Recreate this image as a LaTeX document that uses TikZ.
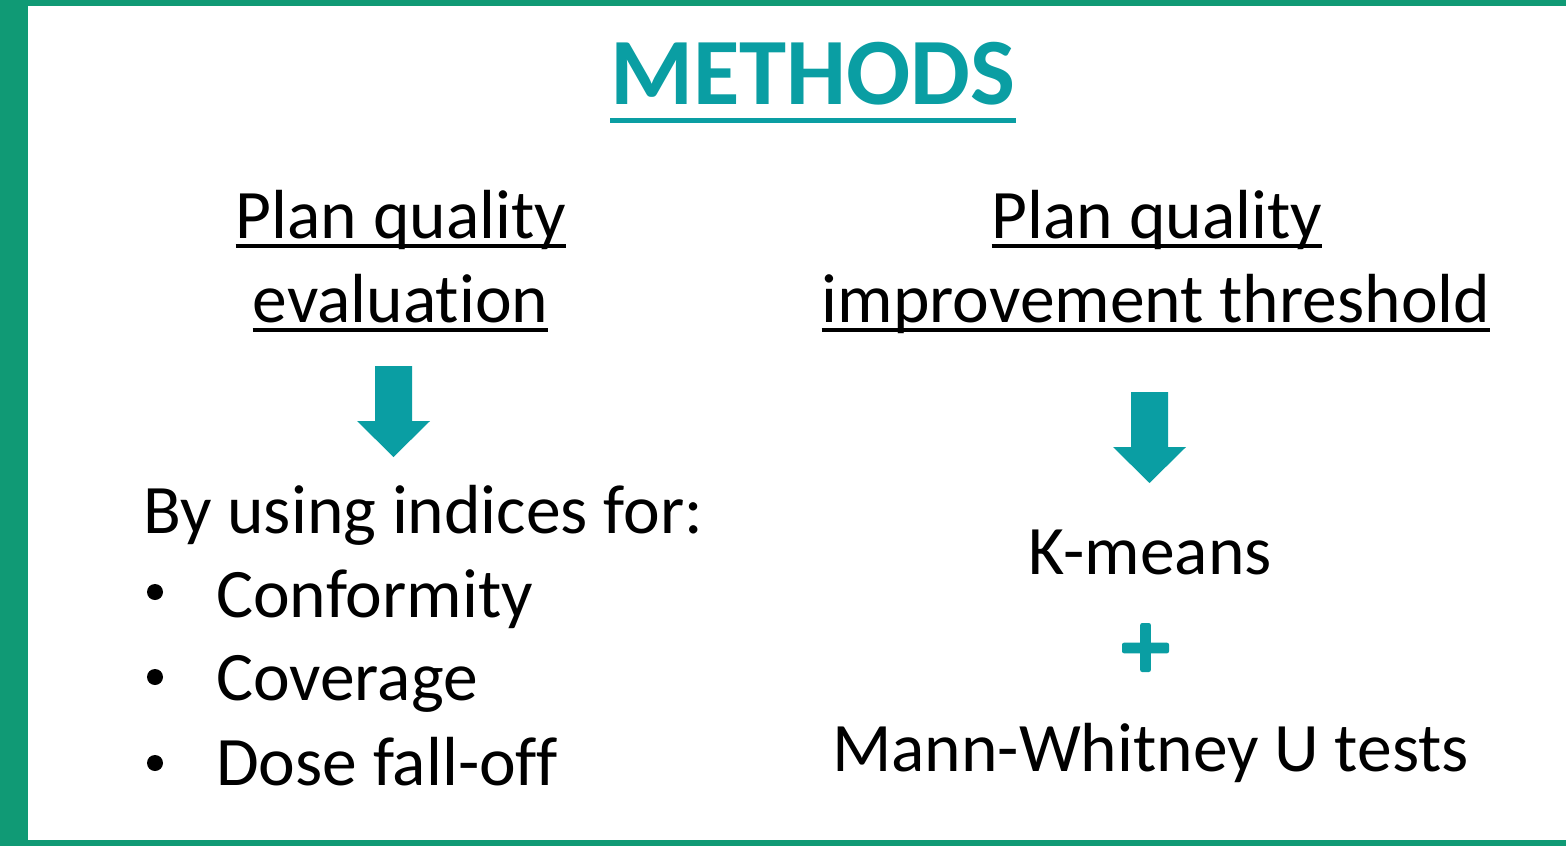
\documentclass[tikz,border=0pt]{standalone}
\usepackage{fontspec}
\setmainfont[Ligatures={NoCommon,NoContextual}]{Carlito}
\definecolor{framegreen}{RGB}{16,154,117}
\definecolor{accent}{RGB}{10,158,163}
\begin{document}
\begin{tikzpicture}[x=1pt,y=-1pt,
  body/.style={inner sep=0pt,anchor=base,font=\fontsize{69.5}{80}\selectfont,text=black},
  heading/.style={inner sep=0pt,anchor=base,text=accent,font=\fontsize{95}{110}\selectfont\bfseries},
  uline/.style={line width=3.5pt,black},
  downarrow/.style={fill=accent,draw=none},
  dot/.style={fill=black,draw=none}]
\useasboundingbox (0,0) rectangle (1566,846);
\fill[white] (0,0) rectangle (1566,846);
% frame
\fill[framegreen] (0,0) rectangle (28,846);
\fill[framegreen] (0,0) rectangle (1566,6);
\fill[framegreen] (0,840) rectangle (1566,846);

% title
\node[heading] (title) at (813,104) {METHODS};
\draw[accent,line width=5pt] ([yshift=-16pt]title.base west) -- ([yshift=-16pt]title.base east);

% left column heading
\node[body] (lh1) at (401,238) {Plan quality};
\node[body] (lh2) at (400.5,322) {evaluation};
\draw[uline] ([yshift=-8pt]lh1.base west) -- ([yshift=-8pt]lh1.base east);
\draw[uline] ([yshift=-8pt]lh2.base west) -- ([yshift=-8pt]lh2.base east);

% right column heading
\node[body] (rh1) at (1157,238) {Plan quality};
\node[body] (rh2) at (1156,322) {improvement threshold};
\draw[uline] ([yshift=-8pt]rh1.base west) -- ([yshift=-8pt]rh1.base east);
\draw[uline] ([yshift=-8pt]rh2.base west) -- ([yshift=-8pt]rh2.base east);

% block arrows
\fill[downarrow] (375,366) -- (412,366) -- (412,421) -- (430,421) -- (393.5,457)
  -- (357,421) -- (375,421) -- cycle;
\fill[downarrow] (1131,392) -- (1168,392) -- (1168,447) -- (1186,447) -- (1149.5,483)
  -- (1113,447) -- (1131,447) -- cycle;

% left column list
\node[body,anchor=base west] (intro) at (143,533) {By using indices for:};
\node[body,anchor=base west] (b1) at (216,617) {Conformity};
\node[body,anchor=base west] (b2) at (216,700) {Coverage};
\node[body,anchor=base west] (b3) at (216,785) {Dose fall-off};
\fill[dot] (155,592) circle (8);
\fill[dot] (155,677) circle (8);
\fill[dot] (155,763) circle (8);

% right column methods
\node[body] (km) at (1150,574) {K-means};
\fill[accent,rounded corners=2pt] (1122,642.7) rectangle (1169,653.3);
\fill[accent,rounded corners=2pt] (1140.2,623) rectangle (1150.8,672);
\node[body] (mw) at (1150.5,771) {Mann-Whitney U tests};
\end{tikzpicture}
\end{document}
